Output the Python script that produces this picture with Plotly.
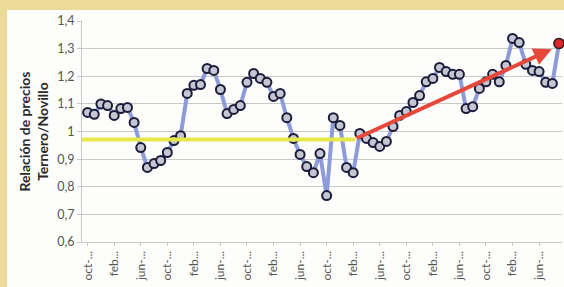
import plotly.graph_objects as go

# ---- data ----
ratio = [1.069, 1.062, 1.100, 1.094, 1.058, 1.083, 1.087, 1.033, 0.942, 0.870,
         0.884, 0.895, 0.924, 0.967, 0.985, 1.138, 1.167, 1.170, 1.228, 1.221,
         1.152, 1.065, 1.080, 1.094, 1.178, 1.210, 1.192, 1.178, 1.127, 1.138,
         1.050, 0.975, 0.917, 0.873, 0.851, 0.920, 0.768, 1.050, 1.022, 0.870,
         0.851, 0.993, 0.975, 0.960, 0.946, 0.964, 1.018, 1.058, 1.072, 1.105,
         1.130, 1.180, 1.192, 1.232, 1.217, 1.207, 1.207, 1.083, 1.090, 1.156,
         1.180, 1.207, 1.180, 1.239, 1.337, 1.322, 1.243, 1.221, 1.217, 1.178,
         1.174, 1.319]
months = ["oct", "nov", "dic", "ene", "feb", "mar", "abr", "may", "jun", "jul", "ago", "sep"]
month_labels = [months[i % 12] for i in range(len(ratio))]
tick_every = 4
tick_text_map = {"oct": "oct-...", "feb": "feb...", "jun": "jun-..."}
y_tickvals = [0.6, 0.7, 0.8, 0.9, 1.0, 1.1, 1.2, 1.3, 1.4]
y_ticktext = ["0,6", "0,7", "0,8", "0,9", "1", "1,1", "1,2", "1,3", "1,4"]

# reference level (yellow) and trend (red arrow)
ref_level = 0.971
ref_x = [-1.0, 40.3]
trend_start = (40.3, 0.973)
trend_end = (69.9, 1.298)

x = list(range(len(ratio)))
tickvals = x[::tick_every]
ticktext = [tick_text_map[month_labels[i]] for i in tickvals]

fig = go.Figure()

fig.add_trace(go.Scatter(
    x=x, y=ratio, mode="lines",
    line=dict(color="#8E9BDA", width=4),
    hoverinfo="skip", showlegend=False, cliponaxis=False))

fig.add_trace(go.Scatter(
    x=x, y=ratio, mode="markers",
    marker=dict(size=9, color="#c4c6d2", line=dict(color="#1c1c3a", width=2)),
    showlegend=False, cliponaxis=False))

# last point highlighted in red
fig.add_trace(go.Scatter(
    x=[x[-1]], y=[ratio[-1]], mode="markers",
    marker=dict(size=10, color="#d8262c", line=dict(color="#3a1a1a", width=1.5)),
    showlegend=False, cliponaxis=False))

# yellow reference line
fig.add_shape(type="line", xref="x", yref="y",
              x0=ref_x[0], x1=ref_x[1], y0=ref_level, y1=ref_level,
              line=dict(color="#E6E84A", width=4), layer="above")

# red trend arrow
fig.add_annotation(x=trend_end[0], y=trend_end[1], ax=trend_start[0], ay=trend_start[1],
                   xref="x", yref="y", axref="x", ayref="y",
                   showarrow=True, arrowhead=2, arrowsize=0.9, arrowwidth=4,
                   arrowcolor="#E8483A", text="")

# white panel over tan frame
fig.add_shape(type="rect", xref="paper", yref="paper",
              x0=(7 - 82) / 480, x1=1.01, y0=(242 - 290) / 221, y1=(242 - 10) / 221,
              fillcolor="#fdfdfb", line=dict(width=0), layer="below")

# y-axis title
fig.add_annotation(xref="paper", yref="paper", x=(33 - 82) / 480, y=0.5,
                   text="<b>Relación de precios<br>Ternero/Novillo</b>",
                   textangle=-90, showarrow=False, xanchor="center", yanchor="middle",
                   font=dict(family="Lato, Open Sans, sans-serif", size=14, color="#2a2a2a"))

fig.update_layout(
    width=564, height=287,
    margin=dict(l=82, r=2, t=21, b=45),
    paper_bgcolor="#EBDA98",
    plot_bgcolor="rgba(0,0,0,0)",
    font=dict(family="Lato, Open Sans, sans-serif", color="#555555"),
    showlegend=False,
)
fig.update_xaxes(
    range=[-0.85, 71.45], tickmode="array", tickvals=tickvals, ticktext=ticktext,
    tickangle=-90, tickfont=dict(size=12, color="#555555"),
    showgrid=False, zeroline=False, showline=True, linecolor="#c8c8c8", linewidth=1,
    ticks="outside", ticklen=3, tickcolor="#c8c8c8")
fig.update_yaxes(
    range=[0.6, 1.4], tickmode="array", tickvals=y_tickvals, ticktext=y_ticktext,
    tickfont=dict(size=12.5, color="#555555"),
    showgrid=True, gridcolor="#c9c9c9", gridwidth=1, zeroline=False,
    showline=True, linecolor="#c8c8c8", ticks="outside", ticklen=4, tickcolor="#c8c8c8")

fig.write_html("out.html", config={"displayModeBar": False},
               post_script="document.body.style.margin='0';document.body.style.padding='0';")
